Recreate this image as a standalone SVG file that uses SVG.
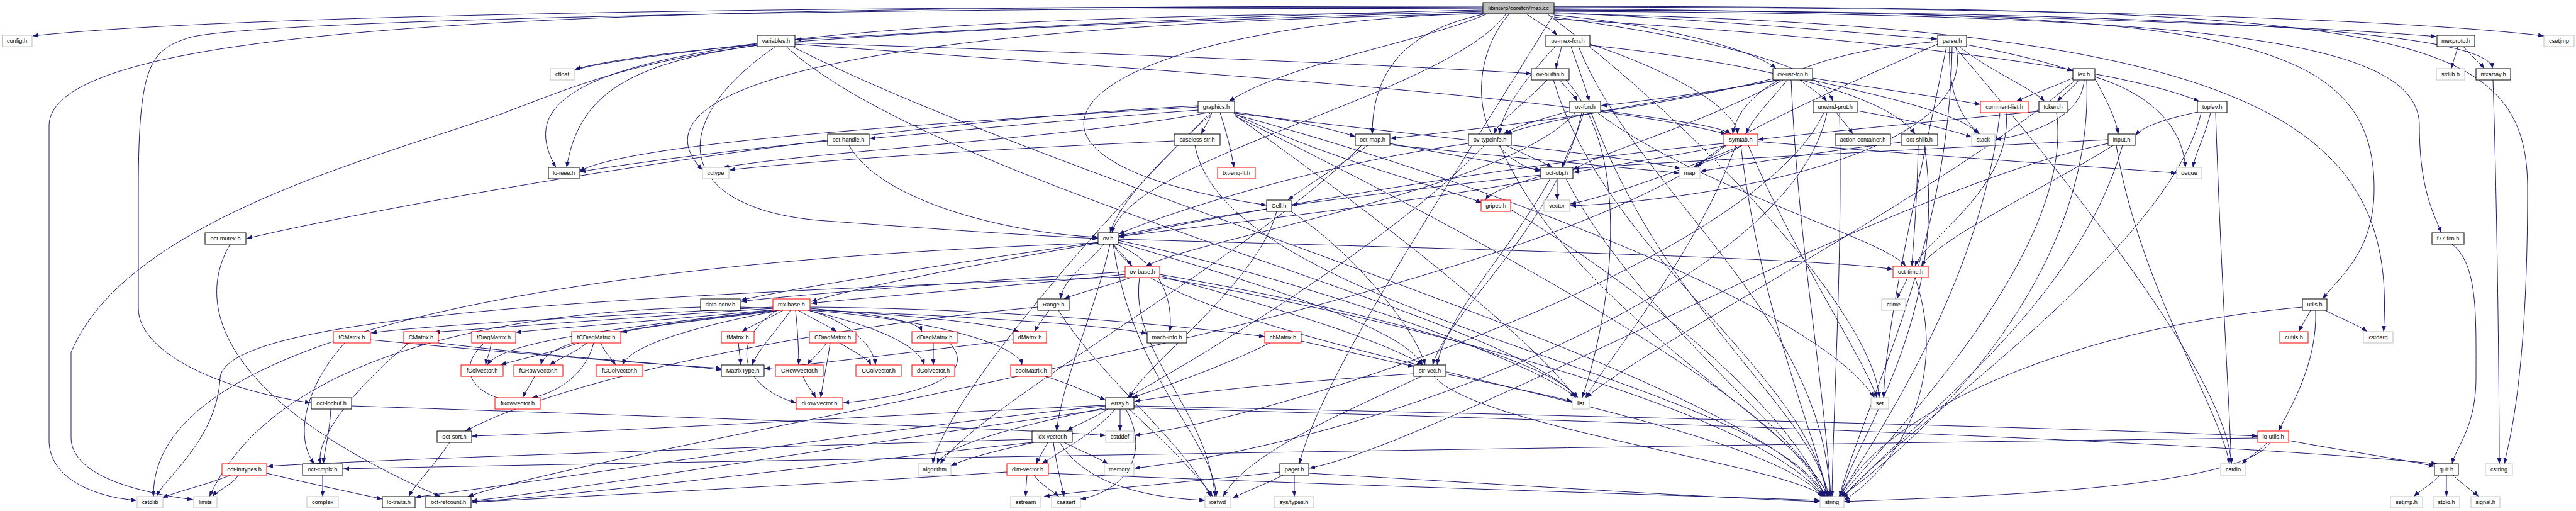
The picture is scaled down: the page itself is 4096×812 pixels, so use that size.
<svg xmlns="http://www.w3.org/2000/svg" width="4096" height="812" viewBox="0 0 4096 812">
<style>
.node rect{fill:#fff;stroke-width:1}
.b rect{stroke:#000}
.r rect{stroke:#f00}
.g rect{stroke:#bfbfbf}
.root rect{fill:#bfbfbf}
.node text{font-family:"Liberation Sans",Arial,sans-serif;font-size:9.2px;text-anchor:middle;fill:#000}
.e path{fill:none;stroke:#191970;stroke-width:1;marker-end:url(#a)}
</style>
<defs>
<marker id="a" markerWidth="9" markerHeight="7" refX="9" refY="3.5" orient="auto" markerUnits="userSpaceOnUse"><path d="M0,0L9,3.5L0,7z" fill="#191970"/></marker>
</defs>
<rect width="4096" height="812" fill="#fff"/>
<g id="edges" class="e">
<path d="M2358,12 C1500,8 400,20 52,57"/>
<path d="M2358,16 C2000,22 1500,50 1265,63"/>
<path d="M2427,22 C2445,35 2465,45 2476,56"/>
<path d="M2471,20 C2700,30 2950,52 3080,62"/>
<path d="M2471,14 C3000,18 3600,36 3874,58"/>
<path d="M2471,11 C3200,12 3800,28 4045,57"/>
<path d="M2358,18 C1800,35 1100,60 914,110"/>
<path d="M2365,22 C2250,70 2050,100 1954,161"/>
<path d="M2362,22 C2250,45 2182,100 2182,213"/>
<path d="M2471,24 C2650,40 2790,80 2824,109"/>
<path d="M2471,27 C2700,60 2900,100 2914,161"/>
<path d="M2471,30 C2900,55 3350,100 3497,161"/>
<path d="M2471,16 C3300,18 3960,40 3963,109"/>
<path d="M2358,20 C1000,25 800,120 884,266"/>
<path d="M2358,22 C1300,40 1000,150 1117,270"/>
<path d="M2400,22 C2330,100 2340,250 2450,272"/>
<path d="M2358,21 C1700,40 1500,250 2014,326"/>
<path d="M2395,22 C2300,150 1800,250 1768,370"/>
<path d="M2471,18 C3500,22 3847,60 3847,200 C3847,300 3870,340 3882,370"/>
<path d="M2460,22 C2700,200 2980,500 2988,632"/>
<path d="M2471,22 C3600,40 3812,200 3790,527"/>
<path d="M2471,10 C3800,12 4019,40 4019,300 C4019,600 3990,700 3982,737"/>
<path d="M2358,10 C1000,10 78,30 78,200 L78,700 C78,760 150,790 217,795"/>
<path d="M2358,14 C1500,10 400,30 300,60 C240,80 220,100 220,300 L220,490 C220,560 350,620 494,640"/>
<path d="M2471,22 C2300,300 2100,600 2066,737"/>
<path d="M2471,16 C3500,20 3775,40 3775,300 C3775,400 3720,440 3693,475"/>
<path d="M3908,74 C3905,88 3900,98 3898,109"/>
<path d="M3917,74 C3928,88 3942,98 3950,109"/>
<path d="M3964,127 C3970,300 3974,600 3974,737"/>
<path d="M1204,69 C1100,82 950,98 913,112"/>
<path d="M1204,72 C1000,100 920,150 901,266"/>
<path d="M1233,74 C1050,200 1080,330 1300,350 C1500,365 1650,375 1746,379"/>
<path d="M1264,68 C1800,85 2300,108 2435,117"/>
<path d="M1264,70 C1800,110 2500,150 2745,213"/>
<path d="M1250,74 C1500,300 2400,500 2508,632"/>
<path d="M1204,72 C1000,100 918,135 800,180 C600,250 200,350 113,560 L113,695 C113,750 200,780 307,794"/>
<path d="M1260,74 C1700,300 2800,600 2900,789"/>
<path d="M2483,74 C2480,88 2476,98 2474,109"/>
<path d="M2498,74 C2510,110 2522,140 2527,161"/>
<path d="M2473,74 C2430,120 2390,170 2384,213"/>
<path d="M2528,70 C2650,110 2760,170 2763,213"/>
<path d="M2528,72 C2800,100 3000,150 3045,213"/>
<path d="M2510,74 C2600,300 2900,500 2910,789"/>
<path d="M2480,127 C2490,140 2502,150 2508,161"/>
<path d="M2460,127 C2430,160 2385,190 2375,213"/>
<path d="M2490,127 C2600,250 2560,500 2516,632"/>
<path d="M2470,127 C2550,400 2880,600 2905,789"/>
<path d="M2497,176 C2450,190 2410,200 2391,213"/>
<path d="M2518,179 C2508,215 2490,245 2484,266"/>
<path d="M2505,179 C2400,300 1900,380 1822,423"/>
<path d="M2515,179 C2480,350 2300,500 2278,580"/>
<path d="M2540,179 C2700,300 3000,380 3030,423"/>
<path d="M2545,175 C2650,190 2735,200 2752,213"/>
<path d="M2530,179 C2650,500 2880,650 2908,789"/>
<path d="M2830,127 C2700,150 2600,162 2546,168"/>
<path d="M2825,127 C2650,160 2450,190 2395,213"/>
<path d="M2835,127 C2700,200 2550,240 2501,270"/>
<path d="M2842,127 C2815,160 2785,190 2776,213"/>
<path d="M2862,127 C2878,140 2895,150 2905,161"/>
<path d="M2882,124 C2980,140 3090,155 3149,166"/>
<path d="M2880,127 C2980,150 3120,180 3146,213"/>
<path d="M2848,127 C2860,400 2900,600 2911,789"/>
<path d="M2819,125 C2600,180 2300,210 2211,220"/>
<path d="M3127,71 C3200,85 3260,100 3296,113"/>
<path d="M3115,74 C3160,110 3230,140 3251,161"/>
<path d="M3100,74 C3097,150 3120,190 3148,213"/>
<path d="M3081,66 C2900,80 2770,130 2755,213"/>
<path d="M3108,74 C3300,300 3540,600 3548,737"/>
<path d="M3081,70 C2900,150 2720,230 2700,266"/>
<path d="M3110,74 C3150,250 2700,320 2497,327"/>
<path d="M3104,74 C3100,400 2960,650 2925,789"/>
<path d="M3095,74 C3050,300 3000,500 2995,632"/>
<path d="M3296,124 C3260,140 3225,152 3206,161"/>
<path d="M3306,127 C3295,140 3280,152 3271,161"/>
<path d="M3314,127 C3310,190 3220,215 3173,222"/>
<path d="M3331,125 C3350,160 3365,190 3368,213"/>
<path d="M3300,127 C3100,300 2600,560 2522,632"/>
<path d="M3331,122 C3420,150 3470,200 3475,266"/>
<path d="M3318,127 C3330,450 3050,700 2928,789"/>
<path d="M3242,177 C3000,200 2850,215 2795,222"/>
<path d="M3270,179 C3300,400 3000,700 2926,789"/>
<path d="M3190,179 C3200,300 3060,380 3045,423"/>
<path d="M3180,179 C3150,450 2980,700 2924,789"/>
<path d="M3515,179 C3505,220 3490,245 3487,266"/>
<path d="M3523,179 C3530,400 3545,650 3548,737"/>
<path d="M3500,179 C3450,400 3000,700 2930,791"/>
<path d="M3494,178 C3440,190 3410,200 3395,215"/>
<path d="M1927,179 C1922,192 1915,203 1910,213"/>
<path d="M1940,179 C1950,210 1958,240 1962,266"/>
<path d="M1905,175 C1700,190 1500,210 1383,220"/>
<path d="M1928,179 C1850,250 1780,320 1765,370"/>
<path d="M1963,178 C2050,190 2120,205 2155,217"/>
<path d="M1960,179 C2100,250 2300,300 2356,322"/>
<path d="M1905,168 C1300,200 600,330 392,379"/>
<path d="M1905,170 C1400,200 1000,230 921,272"/>
<path d="M1920,179 C1700,220 1300,240 1150,266"/>
<path d="M1925,179 C1700,400 1500,650 1483,737"/>
<path d="M1963,180 C2300,220 2600,250 2672,268"/>
<path d="M1963,182 C2400,300 2900,500 2980,632"/>
<path d="M1963,183 C2200,350 2450,550 2505,632"/>
<path d="M1963,184 C2400,400 2850,650 2902,789"/>
<path d="M1316,224 C1150,240 1000,260 922,273"/>
<path d="M1350,231 C1400,320 1600,370 1746,377"/>
<path d="M1867,224 C1500,240 1250,260 1160,270"/>
<path d="M1900,231 C1950,500 2800,600 2903,789"/>
<path d="M2175,231 C2120,270 2070,300 2048,318"/>
<path d="M2210,228 C2300,245 2400,262 2450,270"/>
<path d="M2210,230 C2400,250 2600,268 2670,275"/>
<path d="M2165,231 C2000,400 1550,650 1495,737"/>
<path d="M2395,231 C2430,248 2455,258 2468,266"/>
<path d="M2335,228 C2100,260 1850,340 1779,372"/>
<path d="M2360,231 C2200,400 1850,600 1792,632"/>
<path d="M2385,231 C2500,500 2870,680 2906,789"/>
<path d="M2745,231 C2650,250 2550,265 2502,274"/>
<path d="M2770,231 C2745,248 2705,258 2693,266"/>
<path d="M2795,225 C3100,250 3400,270 3461,275"/>
<path d="M2760,231 C2700,400 2550,580 2521,632"/>
<path d="M2780,231 C2850,400 2970,580 2984,632"/>
<path d="M2741,228 C2400,260 1900,350 1778,377"/>
<path d="M2745,231 C2400,500 1000,700 744,789"/>
<path d="M2768,231 C2800,500 2890,700 2906,789"/>
<path d="M2770,231 C2600,300 2520,320 2497,324"/>
<path d="M3050,231 C3048,330 3042,390 3040,423"/>
<path d="M3023,226 C2900,240 2750,265 2704,272"/>
<path d="M3060,231 C3100,500 2950,700 2926,789"/>
<path d="M2920,179 C2930,192 2940,203 2946,213"/>
<path d="M2953,176 C3030,190 3100,205 3135,218"/>
<path d="M2900,179 C2800,400 2100,650 1804,692"/>
<path d="M2905,179 C2850,450 2200,700 1804,744"/>
<path d="M2925,179 C2930,400 2915,650 2913,789"/>
<path d="M3360,231 C3250,300 3080,380 3055,423"/>
<path d="M3352,228 C3000,300 2300,700 2082,744"/>
<path d="M3365,231 C3400,450 3530,650 3545,737"/>
<path d="M3375,231 C3300,500 3000,700 2930,793"/>
<path d="M3352,222 C3000,240 2600,260 2502,268"/>
<path d="M2014,332 C1900,350 1820,365 1779,375"/>
<path d="M2030,336 C2000,450 1820,580 1795,632"/>
<path d="M2053,336 C2150,400 2250,520 2266,580"/>
<path d="M2476,284 C2476,296 2476,306 2476,318"/>
<path d="M2450,280 C2400,295 2370,305 2362,318"/>
<path d="M2450,278 C2250,300 2100,320 2054,326"/>
<path d="M2452,284 C2200,330 1900,360 1779,376"/>
<path d="M2465,284 C2400,400 2300,500 2285,580"/>
<path d="M2490,284 C2600,500 2870,700 2907,789"/>
<path d="M2402,333 C2600,450 2850,650 2901,789"/>
<path d="M1770,388 C1780,400 1793,412 1799,423"/>
<path d="M1755,388 C1730,420 1692,440 1686,475"/>
<path d="M1746,385 C1500,420 1250,460 1178,477"/>
<path d="M1748,386 C1550,420 1350,460 1290,479"/>
<path d="M1775,388 C1850,420 1865,480 1860,527"/>
<path d="M1765,388 C1740,500 1690,600 1680,685"/>
<path d="M1778,385 C2000,450 2230,520 2262,580"/>
<path d="M1778,382 C2100,450 2450,580 2506,632"/>
<path d="M1770,388 C1800,600 1930,700 1934,789"/>
<path d="M1746,386 C800,420 240,550 244,789"/>
<path d="M1770,388 C1850,550 2800,650 2900,792"/>
<path d="M1778,380 C2300,395 2900,410 3010,428"/>
<path d="M1798,441 C1760,455 1715,465 1692,475"/>
<path d="M1789,432 C1500,450 1250,470 1178,479"/>
<path d="M1789,436 C1550,460 1350,475 1290,482"/>
<path d="M1844,438 C2000,480 2200,540 2262,580"/>
<path d="M1844,436 C2100,480 2450,560 2509,632"/>
<path d="M1812,441 C1795,560 1920,650 1932,789"/>
<path d="M1844,441 C2200,500 2800,650 2901,791"/>
<path d="M1789,440 C1000,470 360,500 350,600 C345,700 260,760 249,789"/>
<path d="M1114,488 C700,500 420,600 333,789"/>
<path d="M1177,488 C1500,500 1750,515 1824,530"/>
<path d="M1229,488 C1000,500 700,515 590,529"/>
<path d="M1229,490 C1000,505 800,520 690,528"/>
<path d="M1232,492 C1100,505 900,520 820,528"/>
<path d="M1240,493 C1150,505 1050,515 988,528"/>
<path d="M1245,493 C1225,505 1195,517 1180,527"/>
<path d="M1269,493 C1290,505 1315,517 1330,527"/>
<path d="M1288,490 C1400,500 1460,510 1466,527"/>
<path d="M1288,492 C1450,500 1580,515 1620,527"/>
<path d="M1288,488 C1600,490 1900,520 2011,535"/>
<path d="M1288,493 C1500,510 1620,550 1625,580"/>
<path d="M1257,493 C1240,520 1205,555 1196,580"/>
<path d="M1265,493 C1268,520 1270,555 1270,580"/>
<path d="M1285,493 C1350,510 1390,550 1392,580"/>
<path d="M1288,494 C1400,520 1460,550 1470,580"/>
<path d="M1229,493 C1000,520 800,540 775,580"/>
<path d="M1230,494 C1000,520 870,540 860,580"/>
<path d="M1235,494 C1100,520 1000,550 990,580"/>
<path d="M1235,493 C1150,550 1190,620 1266,640"/>
<path d="M1668,493 C1660,505 1650,517 1645,527"/>
<path d="M1683,493 C1750,600 1880,700 1925,789"/>
<path d="M1650,488 C1300,520 900,600 740,685"/>
<path d="M1611,540 C1450,560 1280,580 1215,586"/>
<path d="M1484,545 C1484,557 1484,568 1484,580"/>
<path d="M1510,545 C1560,600 1450,630 1341,640"/>
<path d="M1314,545 C1305,560 1290,570 1284,580"/>
<path d="M1320,545 C1315,580 1308,610 1305,632"/>
<path d="M1335,545 C1360,560 1380,570 1385,580"/>
<path d="M1174,545 C1175,557 1177,568 1178,580"/>
<path d="M589,540 C800,560 1050,580 1147,585"/>
<path d="M548,545 C480,620 470,700 500,737"/>
<path d="M650,545 C560,620 500,700 510,737"/>
<path d="M697,545 C900,570 1100,580 1147,588"/>
<path d="M781,545 C779,560 774,570 772,580"/>
<path d="M770,545 C720,590 760,630 810,636"/>
<path d="M920,545 C880,560 820,572 796,580"/>
<path d="M933,545 C915,560 885,572 874,580"/>
<path d="M955,545 C962,560 972,570 979,580"/>
<path d="M944,545 C930,600 880,625 846,632"/>
<path d="M850,598 C845,610 835,622 831,632"/>
<path d="M1277,598 C1282,612 1292,622 1297,632"/>
<path d="M1662,598 C1700,610 1735,625 1758,636"/>
<path d="M2019,545 C1950,580 1850,615 1800,632"/>
<path d="M2069,542 C2150,560 2210,575 2248,582"/>
<path d="M2248,594 C2000,610 1850,630 1804,638"/>
<path d="M2299,594 C2400,615 2470,630 2500,638"/>
<path d="M2260,598 C2150,650 1980,720 1945,789"/>
<path d="M2280,598 C2350,680 2850,740 2898,789"/>
<path d="M1761,650 C1740,665 1710,675 1697,685"/>
<path d="M1781,650 C1781,662 1781,673 1781,685"/>
<path d="M1758,648 C1600,680 1500,710 1490,737"/>
<path d="M1773,650 C1740,690 1680,720 1657,737"/>
<path d="M1790,650 C1830,720 1790,780 1718,793"/>
<path d="M1795,650 C1850,700 1910,760 1928,789"/>
<path d="M1758,645 C1400,680 900,760 660,790"/>
<path d="M1758,644 C1400,660 1000,685 750,693"/>
<path d="M1758,650 C1400,700 900,780 750,796"/>
<path d="M1803,645 C2500,660 3300,680 3590,693"/>
<path d="M1803,648 C2600,670 3500,700 3875,737"/>
<path d="M1641,698 C1200,710 600,730 425,741"/>
<path d="M1644,703 C1590,715 1540,727 1512,740"/>
<path d="M1666,703 C1660,715 1652,727 1648,737"/>
<path d="M1692,703 C1715,715 1745,727 1762,737"/>
<path d="M1675,703 C1680,740 1688,770 1692,789"/>
<path d="M1685,703 C1720,760 1800,790 1916,795"/>
<path d="M1641,703 C1300,740 900,790 750,797"/>
<path d="M1633,755 C1632,767 1631,778 1631,789"/>
<path d="M1644,755 C1655,770 1675,782 1684,789"/>
<path d="M1601,750 C1300,770 900,790 750,798"/>
<path d="M1667,752 C2100,770 2600,785 2894,795"/>
<path d="M2058,755 C2058,767 2058,778 2058,789"/>
<path d="M2035,750 C1900,765 1720,780 1660,789"/>
<path d="M2040,755 C2010,770 1980,782 1960,791"/>
<path d="M2081,752 C2400,770 2700,790 2894,797"/>
<path d="M715,703 C690,740 660,770 650,789"/>
<path d="M366,755 C330,770 285,780 258,791"/>
<path d="M379,755 C370,770 345,780 338,789"/>
<path d="M424,752 C500,770 570,785 608,793"/>
<path d="M513,755 C513,767 513,778 513,789"/>
<path d="M526,650 C524,690 516,715 514,737"/>
<path d="M559,645 C1000,660 1600,680 1758,692"/>
<path d="M3605,703 C3595,715 3575,727 3565,737"/>
<path d="M3639,700 C3720,715 3820,730 3871,741"/>
<path d="M3610,703 C3560,780 3100,790 2932,797"/>
<path d="M3590,696 C2500,710 1000,735 546,745"/>
<path d="M3674,493 C3668,505 3660,517 3655,527"/>
<path d="M3697,493 C3720,505 3750,517 3764,527"/>
<path d="M3682,493 C3685,580 3640,650 3623,685"/>
<path d="M3661,488 C3300,520 3000,650 2926,789"/>
<path d="M3880,755 C3865,770 3848,780 3838,789"/>
<path d="M3890,755 C3890,767 3890,778 3890,789"/>
<path d="M3901,755 C3915,770 3932,780 3941,789"/>
<path d="M3899,388 C3940,420 3937,500 3937,600 C3937,680 3905,710 3899,737"/>
<path d="M3033,441 C3028,455 3020,465 3016,475"/>
<path d="M3045,441 C3100,600 3020,740 2932,795"/>
<path d="M366,388 C300,500 380,650 700,789"/>
</g>
<g id="n-mex-cc" class="node b root"><rect x="2358" y="4" width="113" height="18"/><text x="2414.5" y="16.3">libinterp/corefcn/mex.cc</text></g>
<g id="n-config-h" class="node g"><rect x="3.5" y="56" width="47.5" height="18"/><text x="27" y="68.3">config.h</text></g>
<g id="n-variables-h" class="node b"><rect x="1204" y="56" width="60" height="18"/><text x="1234" y="68.3">variables.h</text></g>
<g id="n-ov-mex-fcn-h" class="node b"><rect x="2458" y="56" width="70" height="18"/><text x="2493" y="68.3">ov-mex-fcn.h</text></g>
<g id="n-parse-h" class="node b"><rect x="3081" y="56" width="46" height="18"/><text x="3104" y="68.3">parse.h</text></g>
<g id="n-mexproto-h" class="node b"><rect x="3875" y="56" width="60" height="18"/><text x="3905" y="68.3">mexproto.h</text></g>
<g id="n-csetjmp" class="node g"><rect x="4045" y="56" width="48" height="18"/><text x="4069" y="68.3">csetjmp</text></g>
<g id="n-cfloat" class="node g"><rect x="875" y="109" width="38" height="18"/><text x="894" y="121.3">cfloat</text></g>
<g id="n-ov-builtin-h" class="node b"><rect x="2435" y="109" width="60" height="18"/><text x="2465" y="121.3">ov-builtin.h</text></g>
<g id="n-ov-usr-fcn-h" class="node b"><rect x="2819" y="109" width="63" height="18"/><text x="2850.5" y="121.3">ov-usr-fcn.h</text></g>
<g id="n-lex-h" class="node b"><rect x="3296" y="109" width="35" height="18"/><text x="3313.5" y="121.3">lex.h</text></g>
<g id="n-stdlib-h" class="node g"><rect x="3874" y="109" width="45" height="18"/><text x="3896.5" y="121.3">stdlib.h</text></g>
<g id="n-mxarray-h" class="node b"><rect x="3937" y="109" width="55" height="18"/><text x="3964.5" y="121.3">mxarray.h</text></g>
<g id="n-graphics-h" class="node b"><rect x="1905" y="161" width="58" height="18"/><text x="1934" y="173.3">graphics.h</text></g>
<g id="n-ov-fcn-h" class="node b"><rect x="2496" y="161" width="49" height="18"/><text x="2520.5" y="173.3">ov-fcn.h</text></g>
<g id="n-unwind-prot-h" class="node b"><rect x="2883" y="161" width="70" height="18"/><text x="2918" y="173.3">unwind-prot.h</text></g>
<g id="n-comment-list-h" class="node r"><rect x="3149" y="161" width="76" height="18"/><text x="3187" y="173.3">comment-list.h</text></g>
<g id="n-token-h" class="node b"><rect x="3242" y="161" width="45" height="18"/><text x="3264.5" y="173.3">token.h</text></g>
<g id="n-toplev-h" class="node b"><rect x="3494" y="161" width="47" height="18"/><text x="3517.5" y="173.3">toplev.h</text></g>
<g id="n-oct-handle-h" class="node b"><rect x="1316" y="213" width="66" height="18"/><text x="1349" y="225.3">oct-handle.h</text></g>
<g id="n-caseless-str-h" class="node b"><rect x="1867" y="213" width="73" height="18"/><text x="1903.5" y="225.3">caseless-str.h</text></g>
<g id="n-oct-map-h" class="node b"><rect x="2155" y="213" width="55" height="18"/><text x="2182.5" y="225.3">oct-map.h</text></g>
<g id="n-ov-typeinfo-h" class="node b"><rect x="2335" y="213" width="68" height="18"/><text x="2369" y="225.3">ov-typeinfo.h</text></g>
<g id="n-symtab-h" class="node r"><rect x="2741" y="213" width="54" height="18"/><text x="2768" y="225.3">symtab.h</text></g>
<g id="n-action-container-h" class="node b"><rect x="2918" y="213" width="88" height="18"/><text x="2962" y="225.3">action-container.h</text></g>
<g id="n-oct-shlib-h" class="node b"><rect x="3023" y="213" width="58" height="18"/><text x="3052" y="225.3">oct-shlib.h</text></g>
<g id="n-stack" class="node g"><rect x="3135" y="213" width="37" height="18"/><text x="3153.5" y="225.3">stack</text></g>
<g id="n-input-h" class="node b"><rect x="3352" y="213" width="43" height="18"/><text x="3373.5" y="225.3">input.h</text></g>
<g id="n-lo-ieee-h" class="node b"><rect x="872" y="266" width="49" height="18"/><text x="896.5" y="278.3">lo-ieee.h</text></g>
<g id="n-cctype" class="node g"><rect x="1117" y="266" width="42" height="18"/><text x="1138" y="278.3">cctype</text></g>
<g id="n-txt-eng-ft-h" class="node r"><rect x="1936" y="266" width="60" height="18"/><text x="1966" y="278.3">txt-eng-ft.h</text></g>
<g id="n-oct-obj-h" class="node b"><rect x="2450" y="266" width="51" height="18"/><text x="2475.5" y="278.3">oct-obj.h</text></g>
<g id="n-map" class="node g"><rect x="2670" y="266" width="33" height="18"/><text x="2686.5" y="278.3">map</text></g>
<g id="n-deque" class="node g"><rect x="3461" y="266" width="40" height="18"/><text x="3481" y="278.3">deque</text></g>
<g id="n-Cell-h" class="node b"><rect x="2014" y="318" width="39" height="18"/><text x="2033.5" y="330.3">Cell.h</text></g>
<g id="n-gripes-h" class="node r"><rect x="2355" y="318" width="47" height="18"/><text x="2378.5" y="330.3">gripes.h</text></g>
<g id="n-vector" class="node g"><rect x="2455" y="318" width="41" height="18"/><text x="2475.5" y="330.3">vector</text></g>
<g id="n-oct-mutex-h" class="node b"><rect x="326" y="370" width="65" height="18"/><text x="358.5" y="382.3">oct-mutex.h</text></g>
<g id="n-ov-h" class="node b"><rect x="1746" y="370" width="32" height="18"/><text x="1762" y="382.3">ov.h</text></g>
<g id="n-f77-fcn-h" class="node b"><rect x="3867" y="370" width="51" height="18"/><text x="3892.5" y="382.3">f77-fcn.h</text></g>
<g id="n-ov-base-h" class="node r"><rect x="1789" y="423" width="55" height="18"/><text x="1816.5" y="435.3">ov-base.h</text></g>
<g id="n-oct-time-h" class="node r"><rect x="3010" y="423" width="56" height="18"/><text x="3038" y="435.3">oct-time.h</text></g>
<g id="n-data-conv-h" class="node b"><rect x="1114" y="475" width="63" height="18"/><text x="1145.5" y="487.3">data-conv.h</text></g>
<g id="n-mx-base-h" class="node r"><rect x="1229" y="475" width="59" height="18"/><text x="1258.5" y="487.3">mx-base.h</text></g>
<g id="n-Range-h" class="node b"><rect x="1650" y="475" width="50" height="18"/><text x="1675" y="487.3">Range.h</text></g>
<g id="n-ctime" class="node g"><rect x="2992" y="475" width="38" height="18"/><text x="3011" y="487.3">ctime</text></g>
<g id="n-utils-h" class="node b"><rect x="3661" y="475" width="39" height="18"/><text x="3680.5" y="487.3">utils.h</text></g>
<g id="n-fCMatrix-h" class="node r"><rect x="530" y="527" width="59" height="18"/><text x="559.5" y="539.3">fCMatrix.h</text></g>
<g id="n-CMatrix-h" class="node r"><rect x="642" y="527" width="55" height="18"/><text x="669.5" y="539.3">CMatrix.h</text></g>
<g id="n-fDiagMatrix-h" class="node r"><rect x="750" y="527" width="70" height="18"/><text x="785" y="539.3">fDiagMatrix.h</text></g>
<g id="n-fCDiagMatrix-h" class="node r"><rect x="909" y="527" width="78" height="18"/><text x="948" y="539.3">fCDiagMatrix.h</text></g>
<g id="n-fMatrix-h" class="node r"><rect x="1147" y="527" width="52" height="18"/><text x="1173" y="539.3">fMatrix.h</text></g>
<g id="n-CDiagMatrix-h" class="node r"><rect x="1287" y="527" width="74" height="18"/><text x="1324" y="539.3">CDiagMatrix.h</text></g>
<g id="n-dDiagMatrix-h" class="node r"><rect x="1450" y="527" width="72" height="18"/><text x="1486" y="539.3">dDiagMatrix.h</text></g>
<g id="n-dMatrix-h" class="node r"><rect x="1611" y="527" width="53" height="18"/><text x="1637.5" y="539.3">dMatrix.h</text></g>
<g id="n-mach-info-h" class="node b"><rect x="1824" y="527" width="63" height="18"/><text x="1855.5" y="539.3">mach-info.h</text></g>
<g id="n-chMatrix-h" class="node r"><rect x="2011" y="527" width="58" height="18"/><text x="2040" y="539.3">chMatrix.h</text></g>
<g id="n-cutils-h" class="node r"><rect x="3625" y="527" width="45" height="18"/><text x="3647.5" y="539.3">cutils.h</text></g>
<g id="n-cstdarg" class="node g"><rect x="3758" y="527" width="47" height="18"/><text x="3781.5" y="539.3">cstdarg</text></g>
<g id="n-fColVector-h" class="node r"><rect x="733" y="580" width="67" height="18"/><text x="766.5" y="592.3">fColVector.h</text></g>
<g id="n-fCRowVector-h" class="node r"><rect x="817" y="580" width="78" height="18"/><text x="856" y="592.3">fCRowVector.h</text></g>
<g id="n-fCColVector-h" class="node r"><rect x="948" y="580" width="74" height="18"/><text x="985" y="592.3">fCColVector.h</text></g>
<g id="n-MatrixType-h" class="node b"><rect x="1147" y="580" width="68" height="18"/><text x="1181" y="592.3">MatrixType.h</text></g>
<g id="n-CRowVector-h" class="node r"><rect x="1233" y="580" width="76" height="18"/><text x="1271" y="592.3">CRowVector.h</text></g>
<g id="n-CColVector-h" class="node r"><rect x="1361" y="580" width="72" height="18"/><text x="1397" y="592.3">CColVector.h</text></g>
<g id="n-dColVector-h" class="node r"><rect x="1450" y="580" width="68" height="18"/><text x="1484" y="592.3">dColVector.h</text></g>
<g id="n-boolMatrix-h" class="node r"><rect x="1607" y="580" width="65" height="18"/><text x="1639.5" y="592.3">boolMatrix.h</text></g>
<g id="n-str-vec-h" class="node b"><rect x="2248" y="580" width="51" height="18"/><text x="2273.5" y="592.3">str-vec.h</text></g>
<g id="n-oct-locbuf-h" class="node b"><rect x="495" y="632" width="64" height="18"/><text x="527" y="644.3">oct-locbuf.h</text></g>
<g id="n-fRowVector-h" class="node r"><rect x="787" y="632" width="72" height="18"/><text x="823" y="644.3">fRowVector.h</text></g>
<g id="n-dRowVector-h" class="node r"><rect x="1266" y="632" width="74" height="18"/><text x="1303" y="644.3">dRowVector.h</text></g>
<g id="n-Array-h" class="node b"><rect x="1758" y="632" width="45" height="18"/><text x="1780.5" y="644.3">Array.h</text></g>
<g id="n-list" class="node g"><rect x="2500" y="632" width="27" height="18"/><text x="2513.5" y="644.3">list</text></g>
<g id="n-set" class="node g"><rect x="2975" y="632" width="28" height="18"/><text x="2989" y="644.3">set</text></g>
<g id="n-oct-sort-h" class="node b"><rect x="695" y="685" width="55" height="18"/><text x="722.5" y="697.3">oct-sort.h</text></g>
<g id="n-idx-vector-h" class="node b"><rect x="1641" y="685" width="64" height="18"/><text x="1673" y="697.3">idx-vector.h</text></g>
<g id="n-cstddef" class="node g"><rect x="1758" y="685" width="45" height="18"/><text x="1780.5" y="697.3">cstddef</text></g>
<g id="n-lo-utils-h" class="node r"><rect x="3590" y="685" width="49" height="18"/><text x="3614.5" y="697.3">lo-utils.h</text></g>
<g id="n-oct-inttypes-h" class="node r"><rect x="353" y="737" width="71" height="18"/><text x="388.5" y="749.3">oct-inttypes.h</text></g>
<g id="n-oct-cmplx-h" class="node b"><rect x="481" y="737" width="64" height="18"/><text x="513" y="749.3">oct-cmplx.h</text></g>
<g id="n-algorithm" class="node g"><rect x="1460" y="737" width="52" height="18"/><text x="1486" y="749.3">algorithm</text></g>
<g id="n-dim-vector-h" class="node r"><rect x="1601" y="737" width="66" height="18"/><text x="1634" y="749.3">dim-vector.h</text></g>
<g id="n-memory" class="node g"><rect x="1756" y="737" width="47" height="18"/><text x="1779.5" y="749.3">memory</text></g>
<g id="n-pager-h" class="node b"><rect x="2035" y="737" width="46" height="18"/><text x="2058" y="749.3">pager.h</text></g>
<g id="n-cstdio" class="node g"><rect x="3531" y="737" width="40" height="18"/><text x="3551" y="749.3">cstdio</text></g>
<g id="n-quit-h" class="node b"><rect x="3871" y="737" width="38" height="18"/><text x="3890" y="749.3">quit.h</text></g>
<g id="n-cstring" class="node g"><rect x="3952" y="737" width="43" height="18"/><text x="3973.5" y="749.3">cstring</text></g>
<g id="n-cstdlib" class="node g"><rect x="218" y="789" width="41" height="18"/><text x="238.5" y="801.3">cstdlib</text></g>
<g id="n-limits" class="node g"><rect x="308" y="789" width="37" height="18"/><text x="326.5" y="801.3">limits</text></g>
<g id="n-complex" class="node g"><rect x="488" y="789" width="50" height="18"/><text x="513" y="801.3">complex</text></g>
<g id="n-lo-traits-h" class="node b"><rect x="608" y="789" width="52" height="18"/><text x="634" y="801.3">lo-traits.h</text></g>
<g id="n-oct-refcount-h" class="node b"><rect x="677" y="789" width="72" height="18"/><text x="713" y="801.3">oct-refcount.h</text></g>
<g id="n-sstream" class="node g"><rect x="1607" y="789" width="48" height="18"/><text x="1631" y="801.3">sstream</text></g>
<g id="n-cassert" class="node g"><rect x="1672" y="789" width="46" height="18"/><text x="1695" y="801.3">cassert</text></g>
<g id="n-iosfwd" class="node g"><rect x="1916" y="789" width="40" height="18"/><text x="1936" y="801.3">iosfwd</text></g>
<g id="n-sys-types-h" class="node g"><rect x="2026" y="789" width="63" height="18"/><text x="2057.5" y="801.3">sys/types.h</text></g>
<g id="n-string" class="node g"><rect x="2894" y="789" width="38" height="18"/><text x="2913" y="801.3">string</text></g>
<g id="n-setjmp-h" class="node g"><rect x="3801" y="789" width="51" height="18"/><text x="3826.5" y="801.3">setjmp.h</text></g>
<g id="n-stdio-h" class="node g"><rect x="3869" y="789" width="42" height="18"/><text x="3890" y="801.3">stdio.h</text></g>
<g id="n-signal-h" class="node g"><rect x="3929" y="789" width="46" height="18"/><text x="3952" y="801.3">signal.h</text></g>
</svg>
